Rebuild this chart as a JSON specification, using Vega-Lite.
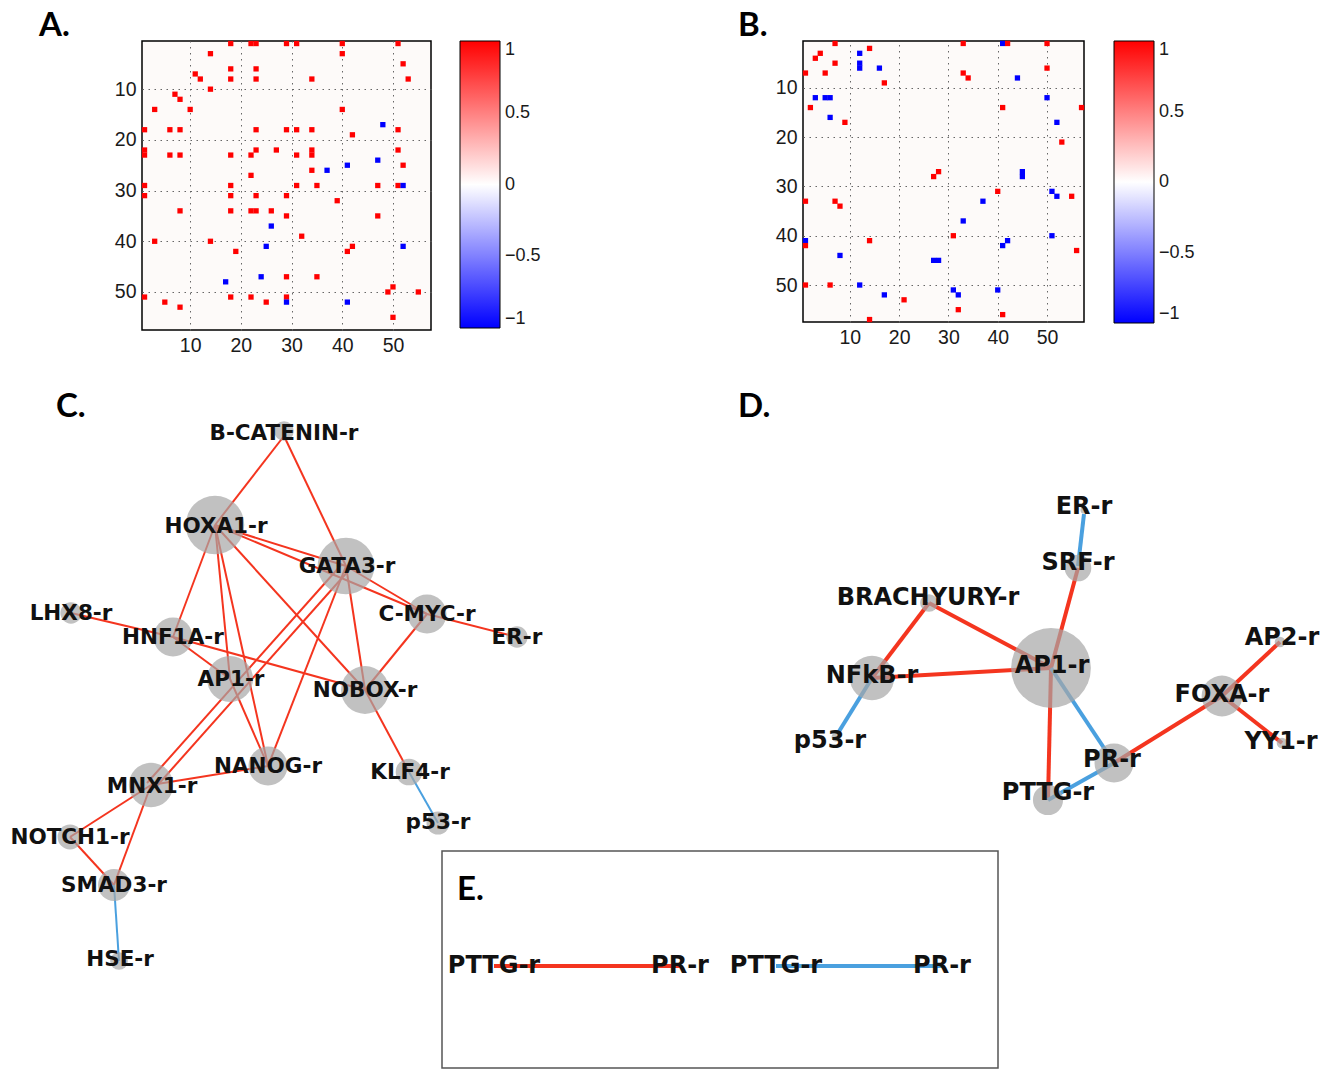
{
  "$schema": "https://vega.github.io/schema/vega-lite/v6.json",
  "padding": {"left": 10, "top": 9, "right": 0, "bottom": 0},
  "background": "white",
  "columns": 2,
  "bounds": "flush",
  "spacing": {"row": 50, "column": 372},
  "resolve": {"scale": {"color": "independent", "x": "independent", "y": "independent", "size": "independent"}, "legend": {"color": "independent"}},
  "config": {
    "font": "Liberation Sans",
    "view": {"stroke": null},
    "axis": {"labelFontSize": 19.5, "labelColor": "#1a1a1a", "labelFont": "Liberation Sans", "ticks": false, "domain": false, "grid": true, "gridDash": [1.5, 4.5], "gridColor": "#666", "gridWidth": 1, "labelPadding": 6, "title": null},
    "legend": {"labelFont": "Liberation Sans", "labelFontSize": 18, "labelColor": "#1a1a1a"}
  },
  "datasets": {
    "heatA": [
      {"r":1,"c":18,"v":1},{"r":1,"c":22,"v":1},{"r":1,"c":23,"v":1},{"r":1,"c":29,"v":1},{"r":1,"c":31,"v":1},{"r":1,"c":40,"v":1},{"r":1,"c":51,"v":1},
      {"r":3,"c":14,"v":1},{"r":3,"c":40,"v":1},
      {"r":5,"c":52,"v":1},
      {"r":6,"c":18,"v":1},{"r":6,"c":23,"v":1},
      {"r":7,"c":11,"v":1},
      {"r":8,"c":12,"v":1},{"r":8,"c":18,"v":1},{"r":8,"c":23,"v":1},{"r":8,"c":34,"v":1},{"r":8,"c":53,"v":1},
      {"r":10,"c":14,"v":1},
      {"r":11,"c":7,"v":1},
      {"r":12,"c":8,"v":1},
      {"r":14,"c":3,"v":1},{"r":14,"c":10,"v":1},{"r":14,"c":40,"v":1},
      {"r":17,"c":48,"v":-1},
      {"r":18,"c":1,"v":1},{"r":18,"c":6,"v":1},{"r":18,"c":8,"v":1},{"r":18,"c":23,"v":1},{"r":18,"c":29,"v":1},{"r":18,"c":31,"v":1},{"r":18,"c":34,"v":1},{"r":18,"c":51,"v":1},
      {"r":19,"c":42,"v":1},
      {"r":22,"c":1,"v":1},{"r":22,"c":23,"v":1},{"r":22,"c":27,"v":1},{"r":22,"c":34,"v":1},{"r":22,"c":51,"v":1},
      {"r":23,"c":1,"v":1},{"r":23,"c":6,"v":1},{"r":23,"c":8,"v":1},{"r":23,"c":18,"v":1},{"r":23,"c":22,"v":1},{"r":23,"c":31,"v":1},{"r":23,"c":34,"v":1},
      {"r":24,"c":47,"v":-1},
      {"r":25,"c":41,"v":-1},{"r":25,"c":52,"v":1},
      {"r":26,"c":34,"v":1},{"r":26,"c":37,"v":-1},
      {"r":27,"c":22,"v":1},
      {"r":29,"c":1,"v":1},{"r":29,"c":18,"v":1},{"r":29,"c":31,"v":1},{"r":29,"c":35,"v":1},{"r":29,"c":47,"v":1},{"r":29,"c":51,"v":1},{"r":29,"c":52,"v":-1},
      {"r":31,"c":1,"v":1},{"r":31,"c":18,"v":1},{"r":31,"c":23,"v":1},{"r":31,"c":29,"v":1},
      {"r":32,"c":39,"v":1},
      {"r":34,"c":8,"v":1},{"r":34,"c":18,"v":1},{"r":34,"c":22,"v":1},{"r":34,"c":23,"v":1},{"r":34,"c":26,"v":1},
      {"r":35,"c":29,"v":1},{"r":35,"c":47,"v":1},
      {"r":37,"c":26,"v":-1},
      {"r":39,"c":32,"v":1},
      {"r":40,"c":3,"v":1},{"r":40,"c":14,"v":1},
      {"r":41,"c":25,"v":-1},{"r":41,"c":42,"v":1},{"r":41,"c":52,"v":-1},
      {"r":42,"c":19,"v":1},{"r":42,"c":41,"v":1},
      {"r":47,"c":24,"v":-1},{"r":47,"c":29,"v":1},{"r":47,"c":35,"v":1},
      {"r":48,"c":17,"v":-1},
      {"r":49,"c":50,"v":1},
      {"r":50,"c":49,"v":1},{"r":50,"c":55,"v":1},
      {"r":51,"c":1,"v":1},{"r":51,"c":18,"v":1},{"r":51,"c":22,"v":1},{"r":51,"c":29,"v":1},
      {"r":52,"c":5,"v":1},{"r":52,"c":25,"v":1},{"r":52,"c":29,"v":-1},{"r":52,"c":41,"v":-1},
      {"r":53,"c":8,"v":1},
      {"r":55,"c":50,"v":1}
    ],
    "heatB": [
      {"r":1,"c":7,"v":1},{"r":1,"c":33,"v":1},{"r":1,"c":41,"v":-1},{"r":1,"c":42,"v":1},{"r":1,"c":50,"v":1},
      {"r":2,"c":14,"v":1},
      {"r":3,"c":4,"v":1},{"r":3,"c":12,"v":-1},
      {"r":4,"c":3,"v":1},
      {"r":5,"c":7,"v":1},{"r":5,"c":12,"v":-1},
      {"r":6,"c":12,"v":-1},{"r":6,"c":16,"v":-1},{"r":6,"c":50,"v":1},
      {"r":7,"c":1,"v":1},{"r":7,"c":5,"v":1},{"r":7,"c":33,"v":1},
      {"r":8,"c":34,"v":1},{"r":8,"c":44,"v":-1},
      {"r":9,"c":17,"v":1},
      {"r":12,"c":3,"v":-1},{"r":12,"c":5,"v":-1},{"r":12,"c":6,"v":-1},{"r":12,"c":50,"v":-1},
      {"r":14,"c":2,"v":1},{"r":14,"c":41,"v":1},{"r":14,"c":57,"v":1},
      {"r":16,"c":6,"v":-1},
      {"r":17,"c":9,"v":1},{"r":17,"c":52,"v":-1},
      {"r":21,"c":53,"v":1},
      {"r":27,"c":28,"v":1},{"r":27,"c":45,"v":-1},
      {"r":28,"c":27,"v":1},{"r":28,"c":45,"v":-1},
      {"r":31,"c":40,"v":1},{"r":31,"c":51,"v":-1},
      {"r":32,"c":52,"v":-1},{"r":32,"c":55,"v":1},
      {"r":33,"c":1,"v":1},{"r":33,"c":7,"v":1},{"r":33,"c":37,"v":-1},
      {"r":34,"c":8,"v":1},
      {"r":37,"c":33,"v":-1},
      {"r":40,"c":31,"v":1},{"r":40,"c":51,"v":-1},
      {"r":41,"c":1,"v":-1},{"r":41,"c":14,"v":1},{"r":41,"c":42,"v":-1},
      {"r":42,"c":1,"v":1},{"r":42,"c":41,"v":-1},
      {"r":43,"c":56,"v":1},
      {"r":44,"c":8,"v":-1},
      {"r":45,"c":27,"v":-1},{"r":45,"c":28,"v":-1},
      {"r":50,"c":1,"v":1},{"r":50,"c":6,"v":1},{"r":50,"c":12,"v":-1},
      {"r":51,"c":31,"v":-1},{"r":51,"c":40,"v":-1},
      {"r":52,"c":17,"v":-1},{"r":52,"c":32,"v":-1},
      {"r":53,"c":21,"v":1},
      {"r":55,"c":32,"v":1},
      {"r":56,"c":41,"v":1},
      {"r":57,"c":14,"v":1}
    ],
    "nodes": [
      {"panel":"C","name":"B-CATENIN-r","x":283,"y":431,"w":11},
      {"panel":"C","name":"HOXA1-r","x":214,"y":525,"w":33},
      {"panel":"C","name":"GATA3-r","x":345,"y":566,"w":32},
      {"panel":"C","name":"C-MYC-r","x":426,"y":614,"w":22},
      {"panel":"C","name":"ER-r","x":516,"y":637,"w":12},
      {"panel":"C","name":"LHX8-r","x":70,"y":613,"w":12},
      {"panel":"C","name":"HNF1A-r","x":172,"y":637,"w":22},
      {"panel":"C","name":"AP1-r","x":229,"y":679,"w":26},
      {"panel":"C","name":"NOBOX-r","x":364,"y":690,"w":27},
      {"panel":"C","name":"NANOG-r","x":267,"y":766,"w":22},
      {"panel":"C","name":"MNX1-r","x":150,"y":785,"w":25},
      {"panel":"C","name":"KLF4-r","x":408,"y":772,"w":15},
      {"panel":"C","name":"p53-r","x":437,"y":823,"w":13},
      {"panel":"C","name":"NOTCH1-r","x":69,"y":837,"w":14},
      {"panel":"C","name":"SMAD3-r","x":113,"y":885,"w":18},
      {"panel":"C","name":"HSE-r","x":118,"y":961,"w":10},
      {"panel":"D","name":"ER-r","x":1083,"y":510,"w":4},
      {"panel":"D","name":"SRF-r","x":1077,"y":568,"w":15},
      {"panel":"D","name":"BRACHYURY-r","x":928,"y":603,"w":10},
      {"panel":"D","name":"AP1-r","x":1050,"y":668,"w":45},
      {"panel":"D","name":"NFkB-r","x":871,"y":678,"w":25},
      {"panel":"D","name":"p53-r","x":835,"y":737,"w":5},
      {"panel":"D","name":"FOXA-r","x":1221,"y":696,"w":23},
      {"panel":"D","name":"AP2-r","x":1279,"y":642,"w":6},
      {"panel":"D","name":"YY1-r","x":1281,"y":743,"w":6},
      {"panel":"D","name":"PR-r","x":1113,"y":763,"w":22},
      {"panel":"D","name":"PTTG-r","x":1047,"y":800,"w":17}
    ],
    "labels": [
      {"panel":"C","text":"B-CATENIN-r","x":283,"y":434},
      {"panel":"C","text":"HOXA1-r","x":215,"y":527},
      {"panel":"C","text":"GATA3-r","x":346,"y":567},
      {"panel":"C","text":"C-MYC-r","x":426,"y":615},
      {"panel":"C","text":"ER-r","x":516,"y":638},
      {"panel":"C","text":"LHX8-r","x":70,"y":614},
      {"panel":"C","text":"HNF1A-r","x":172,"y":638},
      {"panel":"C","text":"AP1-r","x":230,"y":680},
      {"panel":"C","text":"NOBOX-r","x":364,"y":691},
      {"panel":"C","text":"NANOG-r","x":267,"y":767},
      {"panel":"C","text":"MNX1-r","x":151,"y":787},
      {"panel":"C","text":"KLF4-r","x":409,"y":773},
      {"panel":"C","text":"p53-r","x":437,"y":823},
      {"panel":"C","text":"NOTCH1-r","x":69,"y":838},
      {"panel":"C","text":"SMAD3-r","x":113,"y":886},
      {"panel":"C","text":"HSE-r","x":119,"y":960},
      {"panel":"D","text":"ER-r","x":1083,"y":507},
      {"panel":"D","text":"SRF-r","x":1077,"y":563},
      {"panel":"D","text":"BRACHYURY-r","x":927,"y":598},
      {"panel":"D","text":"AP1-r","x":1051,"y":666},
      {"panel":"D","text":"NFkB-r","x":871,"y":676},
      {"panel":"D","text":"p53-r","x":829,"y":741},
      {"panel":"D","text":"FOXA-r","x":1221,"y":695},
      {"panel":"D","text":"AP2-r","x":1281,"y":638},
      {"panel":"D","text":"YY1-r","x":1280,"y":742},
      {"panel":"D","text":"PR-r","x":1111,"y":760},
      {"panel":"D","text":"PTTG-r","x":1047,"y":793},
      {"panel":"E","text":"PTTG-r","x":493,"y":966},
      {"panel":"E","text":"PR-r","x":679,"y":966},
      {"panel":"E","text":"PTTG-r","x":775,"y":966},
      {"panel":"E","text":"PR-r","x":941,"y":966}
    ],
    "edges": [
      {"panel":"C","sign":"pos","x":283,"y":436,"x2":214,"y2":525},
      {"panel":"C","sign":"pos","x":283,"y":436,"x2":345,"y2":566},
      {"panel":"C","sign":"pos","x":214,"y":525,"x2":345,"y2":566},
      {"panel":"C","sign":"pos","x":214,"y":525,"x2":426,"y2":614},
      {"panel":"C","sign":"pos","x":214,"y":525,"x2":364,"y2":690},
      {"panel":"C","sign":"pos","x":214,"y":525,"x2":172,"y2":637},
      {"panel":"C","sign":"pos","x":214,"y":525,"x2":229,"y2":679},
      {"panel":"C","sign":"pos","x":214,"y":525,"x2":267,"y2":766},
      {"panel":"C","sign":"pos","x":345,"y":566,"x2":426,"y2":614},
      {"panel":"C","sign":"pos","x":345,"y":566,"x2":364,"y2":690},
      {"panel":"C","sign":"pos","x":345,"y":566,"x2":267,"y2":766},
      {"panel":"C","sign":"pos","x":341,"y":564,"x2":146,"y2":783},
      {"panel":"C","sign":"pos","x":349,"y":569,"x2":154,"y2":788},
      {"panel":"C","sign":"pos","x":426,"y":614,"x2":516,"y2":637},
      {"panel":"C","sign":"pos","x":426,"y":614,"x2":364,"y2":690},
      {"panel":"C","sign":"pos","x":70,"y":613,"x2":172,"y2":637},
      {"panel":"C","sign":"pos","x":172,"y":637,"x2":364,"y2":690},
      {"panel":"C","sign":"pos","x":172,"y":637,"x2":229,"y2":679},
      {"panel":"C","sign":"pos","x":229,"y":679,"x2":267,"y2":766},
      {"panel":"C","sign":"pos","x":364,"y":690,"x2":408,"y2":772},
      {"panel":"C","sign":"neg","x":408,"y":772,"x2":437,"y2":823},
      {"panel":"C","sign":"pos","x":150,"y":785,"x2":267,"y2":766},
      {"panel":"C","sign":"pos","x":150,"y":785,"x2":69,"y2":837},
      {"panel":"C","sign":"pos","x":150,"y":785,"x2":113,"y2":885},
      {"panel":"C","sign":"pos","x":69,"y":837,"x2":113,"y2":885},
      {"panel":"C","sign":"neg","x":113,"y":885,"x2":118,"y2":961},
      {"panel":"D","sign":"neg","x":1083,"y":514,"x2":1077,"y2":566},
      {"panel":"D","sign":"pos","x":1077,"y":568,"x2":1050,"y2":668},
      {"panel":"D","sign":"pos","x":928,"y":603,"x2":1050,"y2":668},
      {"panel":"D","sign":"pos","x":928,"y":603,"x2":871,"y2":678},
      {"panel":"D","sign":"pos","x":871,"y":678,"x2":1050,"y2":668},
      {"panel":"D","sign":"neg","x":871,"y":678,"x2":837,"y2":733},
      {"panel":"D","sign":"pos","x":1050,"y":668,"x2":1047,"y2":800},
      {"panel":"D","sign":"neg","x":1050,"y":668,"x2":1113,"y2":763},
      {"panel":"D","sign":"neg","x":1113,"y":763,"x2":1047,"y2":800},
      {"panel":"D","sign":"pos","x":1113,"y":763,"x2":1221,"y2":696},
      {"panel":"D","sign":"pos","x":1221,"y":696,"x2":1279,"y2":642},
      {"panel":"D","sign":"pos","x":1221,"y":696,"x2":1281,"y2":743},
      {"panel":"E","sign":"pos","x":493,"y":966,"x2":679,"y2":966},
      {"panel":"E","sign":"neg","x":775,"y":966,"x2":941,"y2":966}
    ],
    "letters": [
      {"text":"C.","x":55,"y":417},
      {"text":"D.","x":737,"y":417},
      {"text":"E.","x":456,"y":900}
    ],
    "box": [
      {"x":441,"y":851,"x2":997,"y2":1068}
    ]
  },
  "concat": [
    {
      "width": 289,
      "height": 289,
      "title": {"text": "A.", "anchor": "start", "frame": "group", "dx": -103, "offset": -28, "fontSize": 33, "font": "Lato", "fontWeight": "bold", "baseline": "alphabetic", "color": "#000"},
      "view": {"stroke": "#000", "strokeWidth": 1.5, "fill": "#fdfaf9"},
      "data": {"name": "heatA"},
      "mark": {"type": "square", "size": 28, "opacity": 1},
      "encoding": {
        "x": {"field": "c", "type": "quantitative", "scale": {"domain": [0.5, 57.5], "nice": false, "zero": false}, "axis": {"values": [10, 20, 30, 40, 50]}},
        "y": {"field": "r", "type": "quantitative", "scale": {"domain": [0.5, 57.5], "nice": false, "zero": false, "reverse": true}, "axis": {"values": [10, 20, 30, 40, 50]}},
        "color": {"field": "v", "type": "quantitative", "scale": {"domain": [-1, 0, 1], "range": ["#0000ff", "#ffffff", "#ff0000"], "interpolate": "rgb"}, "legend": {"title": null, "gradientLength": 287, "gradientThickness": 40, "offset": 29, "values": [-1, -0.5, 0, 0.5, 1], "format": "~g", "labelOffset": 5, "labelBaseline": "middle", "gradientStrokeColor": "#000", "gradientStrokeWidth": 1, "encode": {"labels": {"update": {"baseline": {"value": "middle"}, "dy": {"value": 3}}}}}}
      }
    },
    {
      "width": 281,
      "height": 281,
      "title": {"text": "B.", "anchor": "start", "frame": "group", "dx": -65, "offset": -28, "fontSize": 33, "font": "Lato", "fontWeight": "bold", "baseline": "alphabetic", "color": "#000"},
      "view": {"stroke": "#000", "strokeWidth": 1.5, "fill": "#fdfaf9"},
      "data": {"name": "heatB"},
      "mark": {"type": "square", "size": 28, "opacity": 1},
      "encoding": {
        "x": {"field": "c", "type": "quantitative", "scale": {"domain": [0.5, 57.5], "nice": false, "zero": false}, "axis": {"values": [10, 20, 30, 40, 50]}},
        "y": {"field": "r", "type": "quantitative", "scale": {"domain": [0.5, 57.5], "nice": false, "zero": false, "reverse": true}, "axis": {"values": [10, 20, 30, 40, 50]}},
        "color": {"field": "v", "type": "quantitative", "scale": {"domain": [-1, 0, 1], "range": ["#0000ff", "#ffffff", "#ff0000"], "interpolate": "rgb"}, "legend": {"title": null, "gradientLength": 282, "gradientThickness": 40, "offset": 30, "values": [-1, -0.5, 0, 0.5, 1], "format": "~g", "labelOffset": 5, "labelBaseline": "middle", "gradientStrokeColor": "#000", "gradientStrokeWidth": 1, "encode": {"labels": {"update": {"baseline": {"value": "middle"}, "dy": {"value": 3}}}}}}
      }
    },
    {
      "width": 289,
      "height": 689,
      "view": {"stroke": null},
      "encoding": {
        "x": {"field": "x", "type": "quantitative", "scale": {"domain": [141, 430], "nice": false, "zero": false}, "axis": null},
        "y": {"field": "y", "type": "quantitative", "scale": {"domain": [380, 1069], "nice": false, "zero": false, "reverse": true}, "axis": null}
      },
      "layer": [
        {"data": {"name": "box"}, "mark": {"type": "rect", "fill": "transparent", "stroke": "#555", "strokeWidth": 1.5}, "encoding": {"x2": {"field": "x2"}, "y2": {"field": "y2"}}},
        {"data": {"name": "edges"}, "transform": [{"filter": "datum.panel == 'C'"}], "mark": {"type": "rule", "strokeWidth": 2}, "encoding": {"x2": {"field": "x2"}, "y2": {"field": "y2"}, "color": {"field": "sign", "type": "nominal", "scale": {"domain": ["pos", "neg"], "range": ["#f4351f", "#4aa0df"]}, "legend": null}}},
        {"data": {"name": "edges"}, "transform": [{"filter": "datum.panel != 'C'"}], "mark": {"type": "rule", "strokeWidth": 4}, "encoding": {"x2": {"field": "x2"}, "y2": {"field": "y2"}, "color": {"field": "sign", "type": "nominal", "scale": {"domain": ["pos", "neg"], "range": ["#f4351f", "#4aa0df"]}, "legend": null}}},
        {"data": {"name": "nodes"}, "mark": {"type": "circle", "color": "#a6a6a6", "opacity": 0.7}, "encoding": {"size": {"field": "w", "type": "quantitative", "scale": {"type": "pow", "exponent": 2, "domain": [0, 50], "range": [0, 7854]}, "legend": null}}},
        {"data": {"name": "labels"}, "transform": [{"filter": "datum.panel == 'C'"}], "mark": {"type": "text", "font": "DejaVu Sans", "fontWeight": "bold", "fontSize": 21.5, "align": "center", "baseline": "middle", "color": "#111"}, "encoding": {"text": {"field": "text"}}},
        {"data": {"name": "labels"}, "transform": [{"filter": "datum.panel != 'C'"}], "mark": {"type": "text", "font": "DejaVu Sans", "fontWeight": "bold", "fontSize": 24, "align": "center", "baseline": "middle", "color": "#111"}, "encoding": {"text": {"field": "text"}}},
        {"data": {"name": "letters"}, "mark": {"type": "text", "font": "Lato", "fontWeight": "bold", "fontSize": 33, "align": "left", "baseline": "alphabetic", "color": "#000"}, "encoding": {"text": {"field": "text"}}}
      ]
    }
  ]
}
